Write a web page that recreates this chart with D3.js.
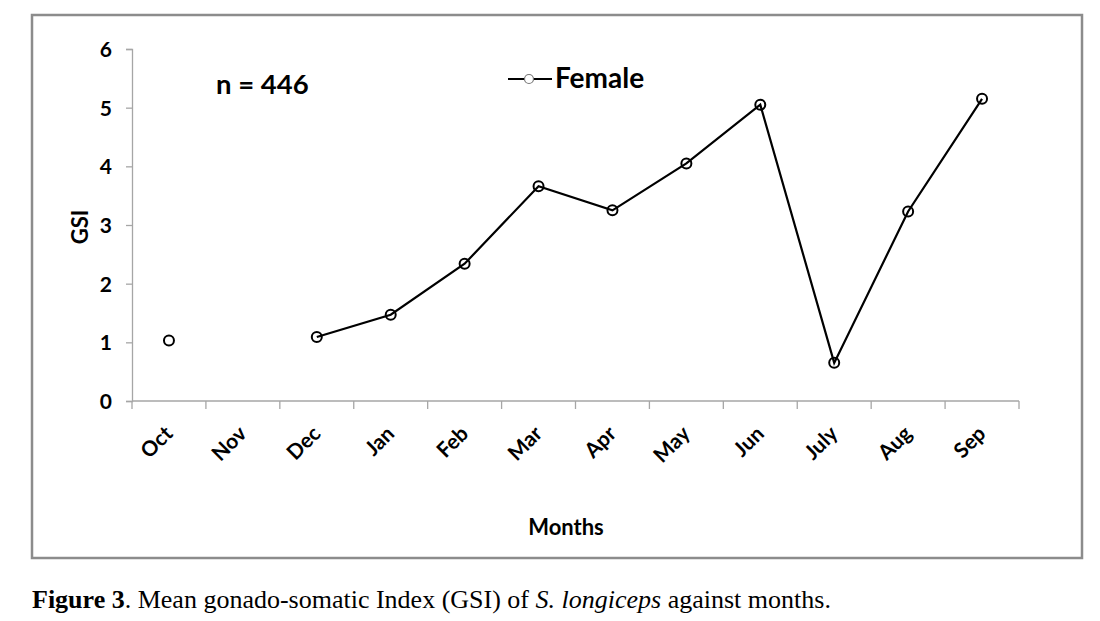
<!DOCTYPE html>
<html>
<head>
<meta charset="utf-8">
<script src="https://cdn.jsdelivr.net/npm/d3@7"></script>
<style>
  html, body { margin: 0; padding: 0; background: #fff; }
  svg { display: block; }
</style>
</head>
<body>
<svg id="chart" width="1100" height="621"></svg>
<script>
const months = ["Oct","Nov","Dec","Jan","Feb","Mar","Apr","May","Jun","July","Aug","Sep"];
const gsiFemale = [1.03, null, 1.09, 1.47, 2.34, 3.66, 3.25, 4.05, 5.05, 0.65, 3.23, 5.15];
const yTicks = [0, 1, 2, 3, 4, 5, 6];
const seriesName = "Female";
const sampleNote = "n = 446";
const yTitle = "GSI";
const xTitle = "Months";

const svg = d3.select("#chart");
const font = "Lato, 'Open Sans', sans-serif";
const axisColor = "#a6a6a6";

// frame
svg.append("rect")
  .attr("x", 32).attr("y", 15).attr("width", 1050).attr("height", 543)
  .attr("fill", "none").attr("stroke", "#8c8c8c").attr("stroke-width", 2.5);

const x = d3.scaleBand().domain(months).range([132, 1019]).padding(0);
const y = d3.scaleLinear().domain([0, 6]).range([401, 49]);

// y axis
const yAxis = svg.append("g").attr("transform", "translate(132,0)")
  .call(d3.axisLeft(y).tickValues(yTicks).tickSize(6).tickPadding(14).tickFormat(d3.format("d")));
yAxis.select(".domain").attr("stroke", axisColor).attr("stroke-width", 1.3);
yAxis.selectAll(".tick line").attr("stroke", axisColor).attr("stroke-width", 1.3);
yAxis.selectAll(".tick text").attr("font-family", font).attr("font-weight", "bold")
  .attr("font-size", 21).attr("fill", "#000").attr("dy", "0.36em");

// x axis: ticks at band boundaries
const xg = svg.append("g");
xg.append("line").attr("x1", 132).attr("x2", 1019).attr("y1", y(0)).attr("y2", y(0))
  .attr("stroke", axisColor).attr("stroke-width", 1.3);
const bounds = months.map(m => x(m)).concat([x(months[months.length - 1]) + x.bandwidth()]);
xg.selectAll("line.tk").data(bounds).enter().append("line").attr("class", "tk")
  .attr("x1", d => d).attr("x2", d => d).attr("y1", y(0)).attr("y2", y(0) + 8)
  .attr("stroke", axisColor).attr("stroke-width", 1.3);
xg.selectAll("text.ml").data(months).enter().append("text").attr("class", "ml")
  .attr("transform", d => `translate(${x(d) + x.bandwidth() / 2 + 5},${y(0) + 34}) rotate(-45)`)
  .attr("text-anchor", "end")
  .attr("font-family", font).attr("font-weight", "bold").attr("font-size", 21).attr("fill", "#000")
  .text(d => d);

// axis titles
svg.append("text").attr("transform", "translate(88,227) rotate(-90)")
  .attr("text-anchor", "middle").attr("font-family", font).attr("font-weight", "bold")
  .attr("font-size", 22).text(yTitle);
svg.append("text").attr("x", 566).attr("y", 535).attr("text-anchor", "middle")
  .attr("font-family", font).attr("font-weight", "bold").attr("font-size", 22).text(xTitle);

// n note
svg.append("text").attr("x", 216).attr("y", 94).attr("font-family", font)
  .attr("font-weight", "bold").attr("font-size", 27.5).text(sampleNote);

// legend
svg.append("line").attr("x1", 508).attr("x2", 552).attr("y1", 79).attr("y2", 79)
  .attr("stroke", "#000").attr("stroke-width", 2);
svg.append("circle").attr("cx", 529).attr("cy", 79).attr("r", 4.5)
  .attr("fill", "#fff").attr("stroke", "#777").attr("stroke-width", 1.2);
svg.append("text").attr("x", 555).attr("y", 88).attr("font-family", font)
  .attr("font-weight", "bold").attr("font-size", 28).text(seriesName);

// line
const pts = months.map((m, i) => ({ m, v: gsiFemale[i] }));
const line = d3.line().defined(d => d.v !== null)
  .x(d => x(d.m) + x.bandwidth() / 2).y(d => y(d.v));
svg.append("path").datum(pts).attr("d", line)
  .attr("fill", "none").attr("stroke", "#000").attr("stroke-width", 2.2);
svg.selectAll("circle.pt").data(pts.filter(d => d.v !== null)).enter().append("circle")
  .attr("class", "pt")
  .attr("cx", d => x(d.m) + x.bandwidth() / 2).attr("cy", d => y(d.v)).attr("r", 5)
  .attr("fill", "none").attr("stroke", "#000").attr("stroke-width", 2);

// caption
const cap = svg.append("text").attr("x", 32).attr("y", 608)
  .attr("font-family", "'Liberation Serif', 'Times New Roman', serif").attr("font-size", 26).attr("fill", "#000");
cap.append("tspan").attr("font-weight", "bold").text("Figure 3");
cap.append("tspan").text(". Mean gonado-somatic Index (GSI) of ");
cap.append("tspan").attr("font-style", "italic").text("S. longiceps");
cap.append("tspan").text(" against months.");
</script>
</body>
</html>
